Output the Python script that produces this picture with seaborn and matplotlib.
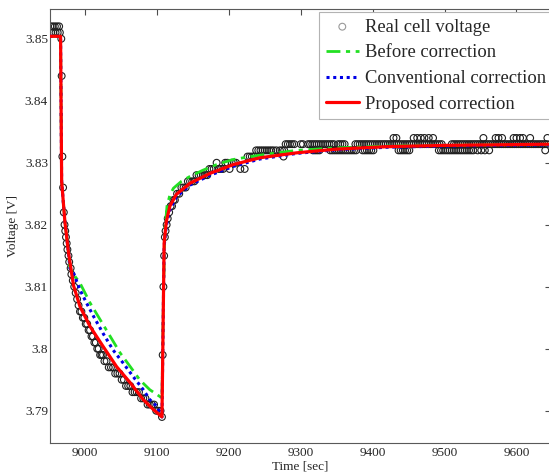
import pandas as pd
import seaborn as sns
import matplotlib
matplotlib.use("Agg")
import matplotlib.pyplot as plt

# Real cell voltage samples (time [sec], voltage [V])
start_t = [8952, 8953, 8955, 8956, 8958, 8959, 8961, 8962, 8964, 8965, 8967]
start_v = [3.852, 3.851, 3.852, 3.851, 3.852, 3.851, 3.852, 3.851, 3.852, 3.851, 3.850]

drop_t = [8967.5, 8968.5, 8969.5, 8970.5, 8971.5, 8972.5, 8973.5, 8974.5, 8975.5, 8977, 8978, 8980]
drop_v = [3.844, 3.831, 3.826, 3.822, 3.820, 3.819, 3.818, 3.817, 3.816, 3.815, 3.814, 3.813]

decline_t = [8981, 8983, 8985, 8987, 8989, 8991, 8993, 8995, 8997, 8999, 9001, 9003, 9005,
             9007, 9009, 9011, 9013, 9015, 9017, 9019, 9021, 9023, 9025, 9027, 9030, 9033,
             9036, 9039, 9042, 9045, 9048, 9051, 9054, 9057, 9060, 9063, 9066, 9069, 9072,
             9075, 9078, 9081, 9084, 9087, 9090, 9093, 9096, 9099, 9102, 9105, 9107]
decline_v = [3.812, 3.811, 3.810, 3.809, 3.808, 3.807, 3.806, 3.806, 3.805, 3.805, 3.804, 3.804, 3.803,
             3.803, 3.802, 3.802, 3.801, 3.801, 3.800, 3.800, 3.799, 3.799, 3.799, 3.798, 3.798, 3.797,
             3.797, 3.797, 3.796, 3.796, 3.796, 3.795, 3.795, 3.794, 3.794, 3.794, 3.793, 3.793, 3.793,
             3.793, 3.792, 3.792, 3.792, 3.791, 3.791, 3.791, 3.791, 3.790, 3.790, 3.790, 3.789]

rise_t = [9108, 9109, 9110, 9111, 9112, 9113.5, 9115, 9117, 9119, 9121, 9123, 9125, 9128, 9131,
          9134, 9137, 9140, 9143, 9146, 9149, 9152, 9155, 9158, 9161, 9164, 9167, 9170, 9173,
          9176, 9179, 9183, 9186, 9189, 9192, 9195, 9198, 9201, 9204, 9207, 9210, 9216, 9222,
          9226, 9229, 9232, 9235, 9238, 9241, 9244, 9247, 9250, 9253, 9256, 9259, 9262, 9266, 9276]
rise_v = [3.799, 3.810, 3.815, 3.818, 3.819, 3.820, 3.821, 3.822, 3.823, 3.823, 3.824, 3.824, 3.825, 3.825,
          3.826, 3.826, 3.826, 3.827, 3.827, 3.827, 3.827, 3.828, 3.828, 3.828, 3.828, 3.828, 3.828, 3.829,
          3.829, 3.829, 3.830, 3.829, 3.829, 3.829, 3.830, 3.830, 3.829, 3.830, 3.830, 3.830, 3.829, 3.829,
          3.831, 3.831, 3.831, 3.831, 3.832, 3.832, 3.832, 3.832, 3.832, 3.832, 3.832, 3.832, 3.832, 3.832, 3.831]

# plateau samples, grouped by the quantised voltage level
t_3832 = [9271, 9274, 9277, 9317, 9320, 9323, 9326, 9341, 9344, 9347, 9350, 9353, 9356, 9359,
          9362, 9365, 9368, 9371, 9374, 9377, 9386, 9389, 9392, 9395, 9398, 9401, 9436, 9439,
          9442, 9445, 9448, 9451, 9492, 9495, 9498, 9501, 9504, 9507, 9510, 9513, 9516, 9519,
          9522, 9525, 9528, 9531, 9534, 9537, 9540, 9546, 9551, 9556, 9562, 9640]
t_3833 = [9279, 9282, 9285, 9288, 9291, 9300, 9303, 9310, 9313, 9316, 9319, 9322, 9325, 9328,
          9331, 9334, 9337, 9340, 9343, 9346, 9352, 9355, 9358, 9361, 9376, 9379, 9382, 9385,
          9388, 9391, 9394, 9397, 9400, 9403, 9406, 9409, 9412, 9415, 9418, 9421, 9424, 9427,
          9430, 9433, 9436, 9439, 9442, 9445, 9448, 9451, 9454, 9457, 9460, 9463, 9466, 9469,
          9472, 9475, 9478, 9481, 9484, 9487, 9490, 9493, 9496, 9510, 9513, 9516, 9519, 9522,
          9525, 9528, 9531, 9534, 9537, 9540, 9543, 9546, 9549, 9552, 9555, 9558, 9561, 9564,
          9567, 9570, 9573, 9576, 9579, 9582, 9585, 9588, 9591, 9594, 9597, 9600, 9603, 9606,
          9609, 9612, 9615, 9618, 9621, 9624, 9627, 9630, 9633, 9636, 9639, 9642]
t_3834 = [9429, 9433, 9457, 9462, 9467, 9472, 9478, 9484, 9554, 9571, 9575, 9580, 9596, 9600,
          9605, 9609, 9619, 9643]

# Model outputs
before_t = [8951, 8966, 8967.5, 8972, 8977, 8979, 8984, 8993, 9007, 9021, 9035, 9049, 9063, 9076,
            9090, 9104, 9107, 9109, 9111, 9114, 9118, 9123, 9134, 9146, 9164, 9183, 9205, 9230,
            9260, 9294, 9350, 9420, 9500, 9650]
before_v = [3.8504, 3.8504, 3.827, 3.8205, 3.8155, 3.8130, 3.8120, 3.8106, 3.8074, 3.8047, 3.8020, 3.7993,
            3.7971, 3.7950, 3.7934, 3.7923, 3.7920, 3.8080, 3.8190, 3.8230, 3.8248, 3.8259, 3.8270,
            3.8278, 3.8288, 3.8297, 3.8305, 3.8310, 3.8315, 3.8320, 3.8324, 3.8327, 3.8328, 3.8330]

conv_t = [8951, 8966, 8967.5, 8972, 8977, 8979, 8984, 8993, 9002, 9012, 9025, 9039, 9053, 9067,
          9081, 9090, 9100, 9107, 9110, 9113, 9118, 9127, 9146, 9174, 9206, 9243, 9294, 9350,
          9420, 9500, 9650]
conv_v = [3.8504, 3.8504, 3.827, 3.8205, 3.8155, 3.8130, 3.8122, 3.8095, 3.8074, 3.8052, 3.8025, 3.7998,
          3.7977, 3.7955, 3.7934, 3.7918, 3.7907, 3.7890, 3.8165, 3.8198, 3.8224, 3.8245, 3.8264,
          3.8280, 3.8294, 3.8306, 3.8315, 3.8321, 3.8325, 3.8327, 3.8329]

prop_t = [8951, 8966, 8967.5, 8972, 8977, 8984, 8993, 9007, 9025, 9044, 9063, 9081, 9095, 9107,
          9110, 9113, 9118, 9127, 9146, 9174, 9206, 9243, 9294, 9350, 9420, 9500, 9650]
prop_v = [3.8504, 3.8504, 3.827, 3.8205, 3.8155, 3.8102, 3.8068, 3.8036, 3.8004, 3.7971, 3.7945, 3.7918,
          3.7902, 3.7890, 3.8170, 3.8205, 3.8230, 3.8249, 3.8267, 3.8283, 3.8297, 3.8308, 3.8316,
          3.8322, 3.8326, 3.8328, 3.8330]

x_ticks = [9000, 9100, 9200, 9300, 9400, 9500, 9600]
y_ticks = [3.79, 3.80, 3.81, 3.82, 3.83, 3.84, 3.85]
y_tick_labels = ["3.79", "3.8", "3.81", "3.82", "3.83", "3.84", "3.85"]

real = pd.DataFrame({
    "t": start_t + drop_t + decline_t + rise_t + t_3832 + t_3833 + t_3834,
    "v": start_v + drop_v + decline_v + rise_v
         + [3.832] * len(t_3832) + [3.833] * len(t_3833) + [3.834] * len(t_3834),
})

sns.set_theme(style="white")
plt.rcParams["font.family"] = ["Liberation Serif", "DejaVu Serif"]

fig = plt.figure(figsize=(5.49, 4.76), dpi=100)
ax = fig.add_axes([50 / 549, 33 / 476, 501 / 549, 434 / 476])

sns.scatterplot(data=real, x="t", y="v", ax=ax, marker="o", s=24,
                facecolors="none", edgecolor="0.12", linewidth=0.8,
                label="Real cell voltage", zorder=2)
sns.lineplot(x=before_t, y=before_v, ax=ax, color="#22e022", lw=2.0,
             ls=(0, (5, 2, 1.5, 2)), sort=False, estimator=None,
             label="Before correction", zorder=3)
sns.lineplot(x=conv_t, y=conv_v, ax=ax, color="#0000e6", lw=2.2,
             ls=(0, (1, 1.2)), sort=False, estimator=None,
             label="Conventional correction", zorder=4)
sns.lineplot(x=prop_t, y=prop_v, ax=ax, color="#ff0000", lw=2.3,
             sort=False, estimator=None, label="Proposed correction", zorder=5)

ax.set_xlim(8951.3, 9648)
ax.set_ylim(3.7848, 3.8548)
ax.set_xticks(x_ticks)
ax.set_yticks(y_ticks)
ax.set_yticklabels(y_tick_labels)

ax.tick_params(direction="in", top=True, right=True, length=4, width=0.8,
               color="0.3", labelsize=9.5, labelcolor="0.15")
ax.tick_params(axis="y", pad=1.5)
ax.tick_params(axis="x", pad=3)
for sp in ax.spines.values():
    sp.set_color("0.35")
    sp.set_linewidth(0.8)

ax.set_xlabel("Time [sec]", fontsize=9.5, color="0.15", labelpad=1)
ax.set_ylabel("Voltage [V]", fontsize=9.5, color="0.15", labelpad=4)

leg = ax.legend(loc="upper left", bbox_to_anchor=(0.537, 0.993), borderaxespad=0,
                fontsize=13.4, handlelength=1.8, handletextpad=0.3,
                labelspacing=0.47, borderpad=0.35, fancybox=False, framealpha=1)
leg.get_frame().set_edgecolor("0.7")
leg.get_frame().set_linewidth(0.8)
leg.legend_handles[0].set_edgecolor("0.6")

fig.savefig("out.png", dpi=100)
